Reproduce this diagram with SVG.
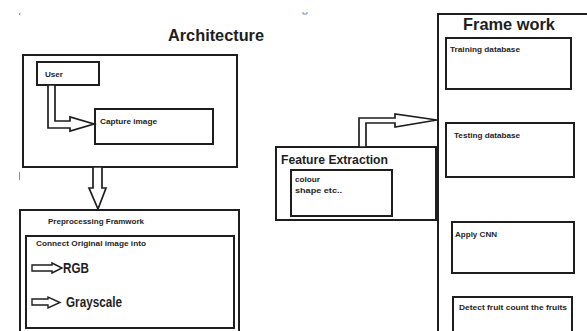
<svg xmlns="http://www.w3.org/2000/svg" width="587" height="331" viewBox="0 0 587 331">
  <style>
    .box { fill: none; stroke: #1e1e1e; stroke-width: 2; }
    .arrow { fill: #ffffff; stroke: #1e1e1e; stroke-width: 1.7; stroke-linejoin: miter; }
    .arrow-sm { fill: #ffffff; stroke: #1e1e1e; stroke-width: 1.4; stroke-linejoin: miter; }
    text { font-family: "Liberation Sans", Arial, sans-serif; font-weight: bold; fill: #1e1e1e; }
    .title { font-size: 17px; }
    .head { font-size: 13px; }
    .big { font-size: 14px; }
    .small { font-size: 8px; }
  </style>
  <rect width="587" height="331" fill="#ffffff"/>

  <!-- stray marks -->
  <path d="M20,13 L19.5,15" stroke="#555" stroke-width="0.8"/>
  <path d="M303,12 L303,14 L307,14 L307,12" fill="none" stroke="#6b8ccf" stroke-width="1"/>
  <path d="M19.5,172 L19.5,180" stroke="#6b8ccf" stroke-width="1"/>

  <text class="title" x="168" y="41" textLength="96" lengthAdjust="spacingAndGlyphs">Architecture</text>

  <g id="architecture">
    <rect class="box" x="23" y="55" width="214" height="112"/>
  </g>
  <g id="user">
    <rect class="box" x="37" y="62" width="62" height="23"/>
    <text class="small" x="45" y="77" textLength="18" lengthAdjust="spacingAndGlyphs">User</text>
  </g>
  <g id="capture-image">
    <rect class="box" x="95" y="109" width="118" height="35"/>
    <text class="small" x="100" y="124" textLength="57" lengthAdjust="spacingAndGlyphs">Capture image</text>
  </g>

  <g id="preprocessing">
    <rect class="box" x="20" y="210" width="219" height="125"/>
    <text class="small" x="48" y="224" textLength="96" lengthAdjust="spacingAndGlyphs">Preprocessing Framwork</text>
  </g>
  <g id="convert">
    <rect class="box" x="26" y="236" width="208" height="92"/>
    <text class="small" x="36" y="246" textLength="110" lengthAdjust="spacingAndGlyphs">Connect Original image into</text>
    <polygon class="arrow-sm" points="32,265 52,265 52,263 62,268 52,273 52,271 32,271"/>
    <text class="big" x="63" y="273" textLength="26" lengthAdjust="spacingAndGlyphs">RGB</text>
    <polygon class="arrow-sm" points="32,299 48,299 48,297 60,302.5 48,308 48,305 32,305"/>
    <text class="big" x="66" y="307" textLength="56" lengthAdjust="spacingAndGlyphs">Grayscale</text>
  </g>

  <g id="feature-extraction">
    <rect class="box" x="276" y="147" width="160" height="73"/>
    <text class="head" x="281" y="164" textLength="107" lengthAdjust="spacingAndGlyphs">Feature Extraction</text>
  </g>
  <g id="features">
    <rect class="box" x="291" y="170" width="101" height="46"/>
    <text class="small" x="295" y="182" textLength="25" lengthAdjust="spacingAndGlyphs">colour</text>
    <text class="small" x="295" y="193" textLength="47" lengthAdjust="spacingAndGlyphs">shape etc..</text>
  </g>

  <g id="framework">
    <path class="box" d="M438,335 L438,14 L590,14"/>
    <text class="title" x="463" y="30" textLength="92" lengthAdjust="spacingAndGlyphs">Frame work</text>
  </g>
  <g id="training-database">
    <rect class="box" x="446" y="38" width="125" height="51"/>
    <text class="small" x="450" y="52" textLength="70" lengthAdjust="spacingAndGlyphs">Training database</text>
  </g>
  <g id="testing-database">
    <rect class="box" x="446" y="123" width="128" height="54"/>
    <text class="small" x="454" y="138" textLength="66" lengthAdjust="spacingAndGlyphs">Testing database</text>
  </g>
  <g id="apply-cnn">
    <rect class="box" x="452" y="222" width="122" height="51"/>
    <text class="small" x="455" y="237" textLength="42" lengthAdjust="spacingAndGlyphs">Apply CNN</text>
  </g>
  <g id="detect-fruit">
    <rect class="box" x="453" y="297" width="119" height="40"/>
    <text class="small" x="459" y="310" textLength="108" lengthAdjust="spacingAndGlyphs">Detect fruit count the fruits</text>
  </g>

  <g id="connectors">
    <!-- User to Capture image -->
    <polygon class="arrow" points="48,85 48,128 70,128 70,131 94,124 70,117 70,121 55,121 55,85"/>
    <!-- Architecture down to Preprocessing -->
    <polygon class="arrow" points="93,167 93,188 89,188 98,209 106,188 102,188 102,167"/>
    <!-- Feature Extraction to Frame work -->
    <polygon class="arrow" points="359,147 359,118 395,118 395,114 437,120 395,127 395,123 366,123 366,147"/>
  </g>
</svg>
